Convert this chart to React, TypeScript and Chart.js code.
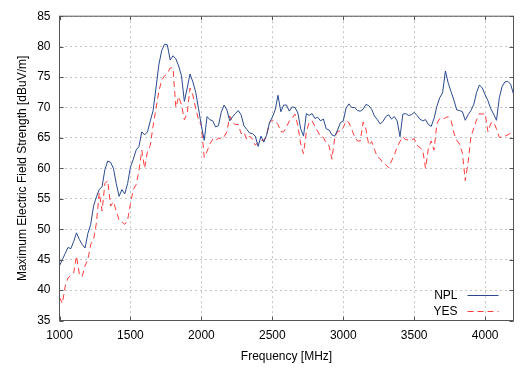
import React, { useEffect, useRef } from "react";
import { Chart, registerables } from "chart.js";

Chart.register(...registerables);

const FREQUENCIES = [
  1000, 1020, 1040, 1060, 1080, 1100, 1120, 1140, 1160, 1180,
  1200, 1220, 1240, 1260, 1280, 1300, 1320, 1340, 1360, 1380,
  1400, 1420, 1440, 1460, 1480, 1500, 1520, 1540, 1560, 1580,
  1600, 1620, 1640, 1660, 1680, 1700, 1720, 1740, 1760, 1780,
  1800, 1820, 1840, 1860, 1880, 1900, 1920, 1940, 1960, 1980,
  2000, 2020, 2040, 2060, 2080, 2100, 2120, 2140, 2160, 2180,
  2200, 2220, 2240, 2260, 2280, 2300, 2320, 2340, 2360, 2380,
  2400, 2420, 2440, 2460, 2480, 2500, 2520, 2540, 2560, 2580,
  2600, 2620, 2640, 2660, 2680, 2700, 2720, 2740, 2760, 2780,
  2800, 2820, 2840, 2860, 2880, 2900, 2920, 2940, 2960, 2980,
  3000, 3020, 3040, 3060, 3080, 3100, 3120, 3140, 3160, 3180,
  3200, 3220, 3240, 3260, 3280, 3300, 3320, 3340, 3360, 3380,
  3400, 3420, 3440, 3460, 3480, 3500, 3520, 3540, 3560, 3580,
  3600, 3620, 3640, 3660, 3680, 3700, 3720, 3740, 3760, 3780,
  3800, 3820, 3840, 3860, 3880, 3900, 3920, 3940, 3960, 3980,
  4000, 4020, 4040, 4060, 4080, 4100, 4120, 4140, 4160, 4180,
  4200,
];

const NPL = [
  44.0, 45.0, 46.0, 47.0, 46.8, 48.0, 49.4, 48.3, 47.5, 46.9,
  49.3, 50.8, 53.8, 55.3, 56.5, 57.0, 59.8, 61.2, 61.0, 60.0,
  57.5, 55.4, 56.5, 55.8, 57.5, 60.2, 61.5, 63.0, 63.6, 66.0,
  65.5, 66.0, 67.8, 69.5, 73.2, 77.0, 79.3, 80.4, 80.3, 77.8,
  78.5, 78.0, 76.8, 75.2, 71.0, 73.2, 75.5, 74.2, 72.5, 69.8,
  67.0, 64.6, 68.5, 68.0, 67.8, 66.8, 67.0, 69.2, 70.4, 69.6,
  67.8, 68.5, 69.0, 69.5, 68.8, 67.0, 66.4, 65.8, 65.7, 65.3,
  63.6, 65.3, 64.3, 65.5, 67.5, 68.4, 69.6, 72.0, 69.3, 70.4,
  70.4, 69.4, 70.1, 70.0, 69.1, 66.5, 65.3, 69.0, 68.7, 69.0,
  68.2, 68.4, 67.8, 68.1, 66.5, 66.3, 65.5, 65.3, 66.3, 67.5,
  67.8, 69.9, 70.6, 70.0, 70.0, 69.5, 69.4, 69.7, 70.5, 70.3,
  69.7, 68.6, 68.0, 67.3, 67.7, 68.5, 68.8, 68.1, 68.5, 67.8,
  65.2, 68.9, 69.0, 68.7, 68.8, 69.2, 68.7, 68.1, 67.8, 68.0,
  67.2, 66.9, 68.2, 70.2, 71.6, 72.4, 76.0, 74.0, 72.6, 71.2,
  69.6, 69.5, 69.3, 67.9, 68.8, 69.5, 70.5, 72.5, 73.7, 73.2,
  72.1, 71.1, 69.8, 68.9, 67.9, 71.6, 73.5, 74.2, 74.3, 73.8,
  72.2,
];

const YES = [
  38.8, 37.8, 40.6, 42.0, 42.4, 42.8, 45.6, 42.6, 42.2, 44.0,
  45.0, 47.5, 48.3, 51.0, 56.0, 53.0, 57.5, 58.0, 53.8, 54.5,
  53.0, 51.5, 51.2, 50.8, 51.5, 54.2, 56.5, 57.3, 59.6, 63.0,
  60.0, 62.8, 63.8, 67.0, 69.8, 72.6, 74.5, 75.2, 75.6, 76.5,
  76.5, 70.0, 71.8, 70.4, 68.0, 69.0, 73.2, 72.0, 69.8, 68.0,
  67.0, 61.8, 62.8, 64.0, 64.8, 64.5, 65.0, 64.8, 65.2, 66.0,
  68.6, 67.5, 67.2, 67.2, 65.7, 66.0, 64.7, 65.3, 64.8, 63.8,
  64.3, 64.6, 64.6, 65.5, 67.5, 67.9, 67.8, 67.2, 66.0, 66.0,
  66.8, 67.8, 68.2, 68.9, 67.0, 64.0, 62.4, 66.0, 67.6, 67.8,
  66.9, 66.1, 65.2, 65.1, 64.1, 63.7, 61.5, 65.0, 66.1, 66.1,
  66.7, 67.8, 67.5, 66.4, 65.2, 64.5, 64.5, 67.6, 66.4, 63.8,
  64.4, 63.1, 61.9, 61.6, 60.8, 60.6, 60.1, 61.2, 62.2, 63.5,
  64.4, 65.2, 64.7, 64.7, 64.6, 64.9, 63.8, 63.4, 63.0, 60.0,
  63.3, 64.5, 63.0, 67.3, 68.2, 68.1, 68.3, 68.5, 67.9, 65.8,
  64.6, 64.0, 62.5, 58.0, 61.0, 65.2, 66.6, 68.0, 69.0, 68.9,
  69.0, 66.0, 67.4, 67.6, 66.5, 65.1, 65.1, 65.3, 65.5, 65.8,
  66.2,
];

const SERIES_LABELS = ["NPL", "YES"];
const X_TICKS = [1000, 1500, 2000, 2500, 3000, 3500, 4000];
const Y_TICKS = [35, 40, 45, 50, 55, 60, 65, 70, 75, 80, 85];
const X_TITLE = "Frequency [MHz]";
const Y_TITLE = "Maximum Electric Field Strength [dBuV/m]";

const FONT_FAMILY = "'Liberation Sans', Arial, Helvetica, sans-serif";
const NPL_COLOR = "#2a4a90";
const YES_COLOR = "#ff3c3c";
const FRAME_COLOR = "#555555";

const framePlugin = {
  id: "frameAndTicks",
  afterDatasetsDraw(chart: any) {
    const { ctx, chartArea } = chart;
    const { left, right, top, bottom } = chartArea;
    const xs = chart.scales.x;
    const ys = chart.scales.y;
    ctx.save();
    ctx.strokeStyle = FRAME_COLOR;
    ctx.lineWidth = 1;
    ctx.setLineDash([]);
    ctx.beginPath();
    const tl = 4;
    X_TICKS.forEach((v) => {
      const px = Math.round(xs.getPixelForValue(v)) + 0.5;
      ctx.moveTo(px, bottom);
      ctx.lineTo(px, bottom - tl);
      ctx.moveTo(px, top);
      ctx.lineTo(px, top + tl);
    });
    Y_TICKS.forEach((v) => {
      const py = Math.round(ys.getPixelForValue(v)) + 0.5;
      ctx.moveTo(left, py);
      ctx.lineTo(left + tl, py);
      ctx.moveTo(right, py);
      ctx.lineTo(right - tl, py);
    });
    ctx.stroke();
    ctx.strokeRect(left, top, right - left, bottom - top);
    ctx.restore();
  },
};

const legendPlugin = {
  id: "insideLegend",
  afterDraw(chart: any) {
    const { ctx, chartArea } = chart;
    ctx.save();
    ctx.font = `12px ${FONT_FAMILY}`;
    ctx.textAlign = "right";
    ctx.textBaseline = "middle";
    chart.data.datasets.forEach((ds: any, i: number) => {
      const y = Math.round(chartArea.bottom - 26 + i * 16) + 0.5;
      ctx.fillStyle = "#000";
      ctx.fillText(ds.label, chartArea.right - 56, y);
      ctx.strokeStyle = ds.borderColor;
      ctx.lineWidth = 1;
      ctx.setLineDash(ds.borderDash || []);
      ctx.beginPath();
      ctx.moveTo(chartArea.right - 46, y);
      ctx.lineTo(chartArea.right - 15, y);
      ctx.stroke();
    });
    ctx.restore();
  },
};

export default function App() {
  const ref = useRef<HTMLCanvasElement>(null);

  useEffect(() => {
    if (!ref.current) return;
    Chart.defaults.font.family = FONT_FAMILY;
    Chart.defaults.font.size = 12;
    Chart.defaults.color = "#000";

    const chart = new Chart(ref.current, {
      type: "line",
      data: {
        datasets: [
          {
            label: SERIES_LABELS[0],
            data: FREQUENCIES.map((f, i) => ({ x: f, y: NPL[i] })),
            borderColor: NPL_COLOR,
            borderWidth: 1,
            pointRadius: 0,
            tension: 0,
            fill: false,
          },
          {
            label: SERIES_LABELS[1],
            data: FREQUENCIES.map((f, i) => ({ x: f, y: YES[i] })),
            borderColor: YES_COLOR,
            borderWidth: 1,
            borderDash: [6, 4],
            pointRadius: 0,
            tension: 0,
            fill: false,
          },
        ],
      },
      options: {
        animation: false,
        responsive: false,
        devicePixelRatio: 1,
        layout: { padding: { left: 0, right: 15.5, top: 7.5, bottom: 0 } },
        plugins: {
          legend: { display: false },
          tooltip: { enabled: false },
        },
        scales: {
          x: {
            type: "linear",
            min: 1000,
            max: 4200,
            afterBuildTicks: (scale: any) => {
              scale.ticks = X_TICKS.map((v) => ({ value: v }));
            },
            afterFit: (scale: any) => {
              scale.height = 47.5;
            },
            grid: {
              color: "#c4c4c4",
              lineWidth: 1,
              drawTicks: false,
            },
            border: { display: false, dash: [2, 3] },
            ticks: {
              padding: 8,
              maxRotation: 0,
              autoSkip: false,
              color: "#000",
              font: { size: 12, family: FONT_FAMILY },
              callback: (v: any) => String(v),
            },
            title: {
              display: true,
              text: X_TITLE,
              color: "#000",
              font: { size: 12, family: FONT_FAMILY },
              padding: { top: 4, bottom: 4 },
            },
          },
          y: {
            type: "linear",
            min: 35,
            max: 85,
            afterBuildTicks: (scale: any) => {
              scale.ticks = Y_TICKS.map((v) => ({ value: v }));
            },
            afterFit: (scale: any) => {
              scale.width = 59.5;
            },
            grid: {
              color: "#c4c4c4",
              lineWidth: 1,
              drawTicks: false,
            },
            border: { display: false, dash: [2, 3] },
            ticks: {
              padding: 9,
              color: "#000",
              font: { size: 12, family: FONT_FAMILY },
              callback: (v: any) => String(v),
            },
            title: {
              display: true,
              text: Y_TITLE,
              color: "#000",
              font: { size: 12, family: FONT_FAMILY },
              padding: { top: 15, bottom: 0 },
            },
          },
        },
      },
      plugins: [framePlugin, legendPlugin],
    } as any);

    return () => chart.destroy();
  }, []);

  return (
    <div
      style={{
        position: "absolute",
        left: 0,
        top: 0,
        width: 529,
        height: 368,
        background: "#fff",
      }}
    >
      <canvas
        ref={ref}
        width={529}
        height={368}
        style={{ display: "block", width: 529, height: 368 }}
      />
    </div>
  );
}
